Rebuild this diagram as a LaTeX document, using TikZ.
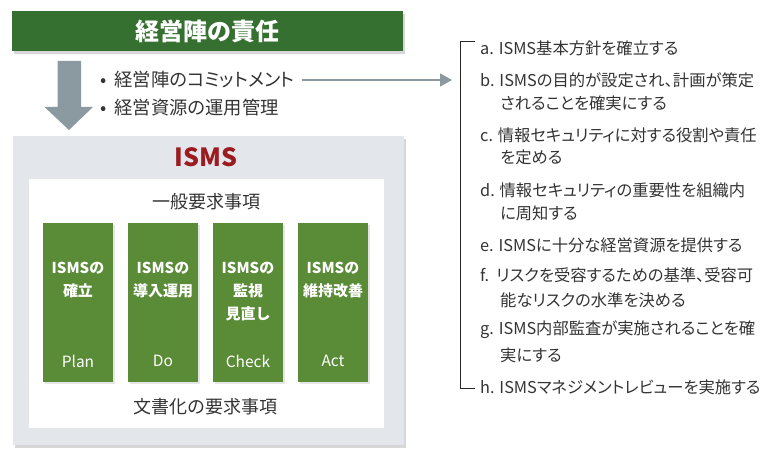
\documentclass[tikz,border=0pt]{standalone}
\usepackage{fontspec}
\setmainfont{Noto Sans CJK JP}
\newfontfamily\pfont{Noto Sans CJK JP}[RawFeature=+palt]
\usetikzlibrary{arrows.meta,shadows}
\definecolor{titlegreen}{HTML}{367030}
\definecolor{boxgreen}{HTML}{5A8C37}
\definecolor{panelgray}{HTML}{E3E7EB}
\definecolor{arrowgray}{HTML}{8A9AA0}
\definecolor{ismsred}{HTML}{9B1B20}
\definecolor{txt}{HTML}{333333}
\begin{document}
\begin{tikzpicture}[x=1pt,y=-1pt,
  softshadow/.style={drop shadow={shadow xshift=2pt,shadow yshift=-3pt,opacity=0.35,fill=black!45}},
  titlebox/.style={fill=titlegreen,draw=none,minimum width=391pt,minimum height=40pt,inner sep=0pt,
     text=white,font=\bfseries\fontsize{24}{28}\selectfont,softshadow},
  panel/.style={fill=panelgray,draw=none,minimum width=391pt,minimum height=309pt,inner sep=0pt,softshadow},
  innerpanel/.style={fill=white,draw=none,minimum width=355pt,minimum height=249pt,inner sep=0pt},
  greenbox/.style={fill=boxgreen,draw=none,minimum width=70pt,minimum height=159pt,inner sep=0pt,
     drop shadow={shadow xshift=1.5pt,shadow yshift=-2pt,opacity=0.25,fill=black!40}},
  boxlabel/.style={text=white,font=\bfseries\fontsize{15}{18}\selectfont,inner sep=0pt,anchor=center},
  pdcalabel/.style={text=white,font=\fontsize{15.5}{18}\selectfont,inner sep=0pt,anchor=center},
  bodytext/.style={text=txt,font=\fontsize{18}{22}\selectfont,inner sep=0pt},
  bullettext/.style={text=txt,font=\pfont\fontsize{18.3}{22}\selectfont,inner sep=0pt,anchor=west},
  item/.style={text=txt,font=\pfont\fontsize{16.3}{19}\selectfont,inner sep=0pt,anchor=west},
  connector/.style={draw=arrowgray,line width=1.6pt,-{Triangle[length=12pt,width=13pt]}},
  bracket/.style={draw=black!85,line width=0.9pt}
]
\useasboundingbox (0,0) rectangle (772,449);

% title
\node[titlebox] (title) at (207.5,31) {経営陣の責任};

% down arrow
\fill[arrowgray] (57.5,61) -- (81,61) -- (81,107) -- (93,107) -- (69,130) -- (44.5,107) -- (57.5,107) -- cycle;

% bullets
\node[bullettext] (bul1) at (100,80) {•\ \ 経営陣のコミットメント};
\node[bullettext] (bul2) at (100,108) {•\ \ 経営資源の運用管理};

% ISMS panel
\node[panel] (panel) at (208.5,290.5) {};
\node[text=ismsred,font=\bfseries\fontsize{25}{28}\selectfont,inner sep=0pt] (isms) at (206,157) {ISMS};
\node[innerpanel] (inner) at (206.5,303.5) {};
\node[bodytext] (general) at (206,202) {一般要求事項};
\node[bodytext] (docreq) at (205,407) {文書化の要求事項};

% PDCA boxes
\node[greenbox] (p1) at (78,302.5) {};
\node[greenbox] (p2) at (163,302.5) {};
\node[greenbox] (p3) at (248,302.5) {};
\node[greenbox] (p4) at (333,302.5) {};

\node[boxlabel] (p1a) at (78,268) {ISMSの};
\node[boxlabel] (p1b) at (78,291) {確立};
\node[pdcalabel] (p1c) at (78,361) {Plan};

\node[boxlabel] (p2a) at (163,268) {ISMSの};
\node[boxlabel] (p2b) at (163,291) {導入運用};
\node[pdcalabel] (p2c) at (163,361) {Do};

\node[boxlabel] (p3a) at (248,268) {ISMSの};
\node[boxlabel] (p3b) at (248,291) {監視};
\node[boxlabel] (p3d) at (248,314) {見直し};
\node[pdcalabel] (p3c) at (248,361) {Check};

\node[boxlabel] (p4a) at (333,268) {ISMSの};
\node[boxlabel] (p4b) at (333,291) {維持改善};
\node[pdcalabel] (p4c) at (333,361) {Act};

% bracket and list
\coordinate (brtop) at (475,41);
\coordinate (brtl) at (460,41);
\coordinate (brbl) at (460,388);
\coordinate (brbot) at (475,388);
\draw[bracket] (brtop) -- (brtl) -- (brbl) -- (brbot);

\coordinate (tip) at (452,80);
\draw[connector,shorten <=7pt] (bul1.east) -- (tip);

\node[item] (ia) at (480,48) {a. ISMS基本方針を確立する};
\node[item] (ib) at (480,80) {b. ISMSの目的が設定され、計画が策定};
\node[item] (ib2) at (500,103) {されることを確実にする};
\node[item] (ic) at (480,135) {c. 情報セキュリティに対する役割や責任};
\node[item] (ic2) at (500,157) {を定める};
\node[item] (id) at (480,190) {d. 情報セキュリティの重要性を組織内};
\node[item] (id2) at (500,213) {に周知する};
\node[item] (ie) at (480,245) {e. ISMSに十分な経営資源を提供する};
\node[item] (if) at (480,275) {f.\ \ リスクを受容するための基準、受容可};
\node[item] (if2) at (500,300) {能なリスクの水準を決める};
\node[item] (ig) at (480,330) {g. ISMS内部監査が実施されることを確};
\node[item] (ig2) at (500,355) {実にする};
\node[item] (ih) at (480,387) {h. ISMSマネジメントレビューを実施する};
\end{tikzpicture}
\end{document}
